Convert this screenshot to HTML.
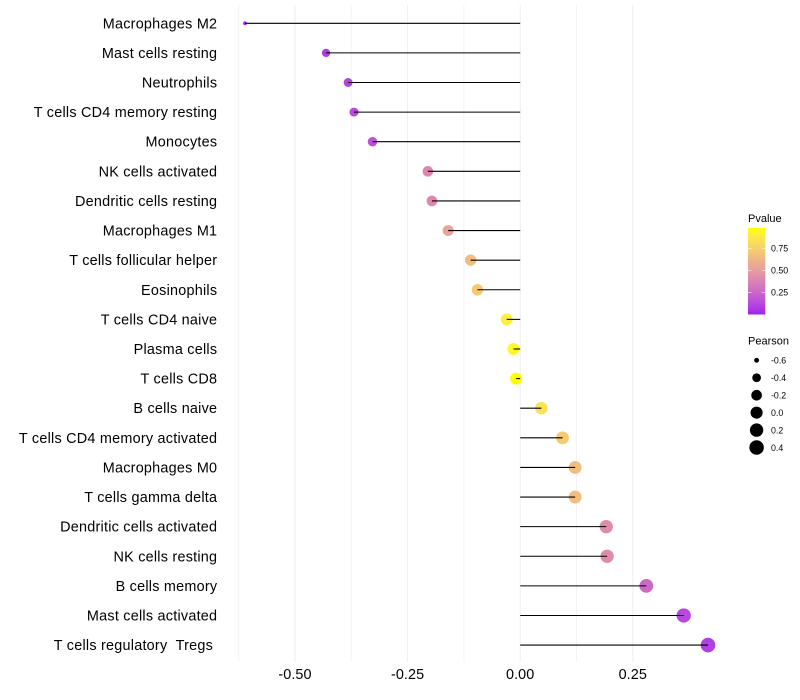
<!DOCTYPE html>
<html>
<head>
<meta charset="utf-8">
<style>
html,body{margin:0;padding:0;background:#fff;}
svg{display:block;font-family:"Liberation Sans",sans-serif;}
</style>
</head>
<body>
<svg id="chart" width="800" height="700" viewBox="0 0 800 700" xmlns="http://www.w3.org/2000/svg">
  <defs>
    <linearGradient id="pgrad" x1="0" y1="1" x2="0" y2="0"></linearGradient>
  </defs>
  <g id="grid"></g>
  <g id="points"></g>
  <g id="stems"></g>
  <g id="ylabels"></g>
  <g id="xlabels"></g>
  <g id="legend-p"></g>
  <g id="legend-s"></g>
</svg>
<script>
const categories = ["Macrophages M2","Mast cells resting","Neutrophils","T cells CD4 memory resting","Monocytes","NK cells activated","Dendritic cells resting","Macrophages M1","T cells follicular helper","Eosinophils","T cells CD4 naive","Plasma cells","T cells CD8","B cells naive","T cells CD4 memory activated","Macrophages M0","T cells gamma delta","Dendritic cells activated","NK cells resting","B cells memory","Mast cells activated","T cells regulatory  Tregs "];
const pearson = [-0.611,-0.431,-0.382,-0.369,-0.328,-0.205,-0.196,-0.160,-0.110,-0.095,-0.030,-0.015,-0.009,0.047,0.094,0.122,0.122,0.191,0.193,0.280,0.363,0.417];
const pvalues = [0.002,0.08,0.10,0.12,0.16,0.39,0.40,0.53,0.66,0.72,0.90,0.95,0.98,0.84,0.72,0.66,0.66,0.42,0.42,0.26,0.12,0.09];
const xMajorTicks = [-0.50,-0.25,0.00,0.25];
const xMinorTicks = [-0.625,-0.375,-0.125,0.125];
const xTickLabels = ["-0.50","-0.25","0.00","0.25"];
const pLegendTicks = [0.25,0.50,0.75];
const pLegendLabels = ["0.25","0.50","0.75"];
const sizeLegendValues = [-0.6,-0.4,-0.2,0.0,0.2,0.4];
const sizeLegendLabels = ["-0.6","-0.4","-0.2","0.0","0.2","0.4"];

const NS = "http://www.w3.org/2000/svg";
function mk(parent, tag, attrs, text) {
  const el = document.createElementNS(NS, tag);
  for (const k in attrs) el.setAttribute(k, attrs[k]);
  if (text !== undefined) el.textContent = text;
  parent.appendChild(el);
  return el;
}
const byId = id => document.getElementById(id);

const sizeMin = Math.min(...pearson);
const sizeMax = Math.max(...pearson);
function xScale(v) { return 520.2 + 450.4 * v; }
function yScale(i) { return 23.28 + 29.61 * i; }
function radius(v) {
  const t = Math.max(0, (v - sizeMin) / (sizeMax - sizeMin));
  return 1.9 + 5.4 * Math.sqrt(t);
}
function pLegendY(p) { return 314.5 - 88 * p; }

function rgb2lab(c) {
  const f = u => { u /= 255; return u > 0.04045 ? Math.pow((u + 0.055) / 1.055, 2.4) : u / 12.92; };
  const r = f(c[0]), g = f(c[1]), b = f(c[2]);
  const X = (0.4124 * r + 0.3576 * g + 0.1805 * b) / 0.95047;
  const Y = 0.2126 * r + 0.7152 * g + 0.0722 * b;
  const Z = (0.0193 * r + 0.1192 * g + 0.9505 * b) / 1.08883;
  const t = u => u > 0.008856 ? Math.cbrt(u) : 7.787 * u + 16 / 116;
  return [116 * t(Y) - 16, 500 * (t(X) - t(Y)), 200 * (t(Y) - t(Z))];
}
function lab2rgb(l) {
  const fy = (l[0] + 16) / 116, fx = l[1] / 500 + fy, fz = fy - l[2] / 200;
  const t = u => { const c = u * u * u; return c > 0.008856 ? c : (u - 16 / 116) / 7.787; };
  const X = t(fx) * 0.95047, Y = t(fy), Z = t(fz) * 1.08883;
  const r = 3.2406 * X - 1.5372 * Y - 0.4986 * Z;
  const g = -0.9689 * X + 1.8758 * Y + 0.0415 * Z;
  const b = 0.0557 * X - 0.204 * Y + 1.057 * Z;
  const f = u => {
    const v = u > 0.0031308 ? 1.055 * Math.pow(u, 1 / 2.4) - 0.055 : 12.92 * u;
    return Math.round(Math.min(1, Math.max(0, v)) * 255);
  };
  return "rgb(" + f(r) + "," + f(g) + "," + f(b) + ")";
}
const labLow = rgb2lab([160, 32, 240]);
const labHigh = rgb2lab([255, 255, 0]);
function pColor(p) {
  const t = Math.min(1, Math.max(0, p / 0.98));
  return lab2rgb([0, 1, 2].map(i => labLow[i] + (labHigh[i] - labLow[i]) * t));
}

// Grid
xMinorTicks.forEach(v => {
  const ln = mk(byId("grid"), "line", {x1: xScale(v), x2: xScale(v), y1: 5, y2: 662, stroke: "#f3f3f3", "stroke-width": 1});
  
  
});
xMajorTicks.forEach(v => {
  const ln = mk(byId("grid"), "line", {x1: xScale(v), x2: xScale(v), y1: 5, y2: 662, stroke: "#eeeeee", "stroke-width": 1});
  
  
});

// Marks
categories.forEach((name, i) => {
  const y = yScale(i);
  const pt = mk(byId("points"), "circle", {cx: xScale(pearson[i]), cy: y, r: radius(pearson[i]), fill: pColor(pvalues[i])});
  
  
  const st = mk(byId("stems"), "line", {x1: xScale(0), x2: xScale(pearson[i]), y1: y, y2: y, stroke: "#000", "stroke-width": 1.07});
  
  
  const lb = mk(byId("ylabels"), "text", {x: 217.3, y: y + 5, "text-anchor": "end", "font-size": 14.4, "letter-spacing": 0.24, fill: "#000", style: "white-space:pre"}, name);
  
  
});

xMajorTicks.forEach((v, i) => {
  const t = mk(byId("xlabels"), "text", {x: xScale(v), y: 679, "text-anchor": "middle", "font-size": 14.4, "letter-spacing": 0.1, fill: "#000"}, xTickLabels[i]);
  
  
});

// P-value legend
const grad = byId("pgrad");
for (let k = 0; k <= 20; k++) {
  mk(grad, "stop", {offset: (k * 5) + "%", "stop-color": pColor(0.98 * k / 20)});
}
const lp = byId("legend-p");
const pTitle = mk(lp, "text", {x: 748, y: 222, "font-size": 11, fill: "#000"}, "Pvalue");


const bar = mk(lp, "rect", {x: 748, y: 228, width: 17.3, height: 86.5, fill: "url(#pgrad)"});


pLegendTicks.forEach((p, i) => {
  const y = pLegendY(p);
  const a = mk(lp, "line", {x1: 748, x2: 751.5, y1: y, y2: y, stroke: "#fff", "stroke-width": 0.55});
  
  
  const b = mk(lp, "line", {x1: 761.8, x2: 765.3, y1: y, y2: y, stroke: "#fff", "stroke-width": 0.55});
  
  
  const t = mk(lp, "text", {x: 771, y: y + 3.2, "font-size": 8.8, fill: "#000"}, pLegendLabels[i]);
  
  
});

// Pearson legend
const ls = byId("legend-s");
const sTitle = mk(ls, "text", {x: 748, y: 344.5, "font-size": 11, fill: "#000"}, "Pearson");


sizeLegendValues.forEach((v, i) => {
  const y = 360.3 + 17.45 * i;
  const c = mk(ls, "circle", {cx: 756.6, cy: y, r: radius(v), fill: "#000"});
  
  
  const t = mk(ls, "text", {x: 771, y: y + 3.2, "font-size": 8.8, fill: "#000"}, sizeLegendLabels[i]);
  
  
});
</script>
</body>
</html>
